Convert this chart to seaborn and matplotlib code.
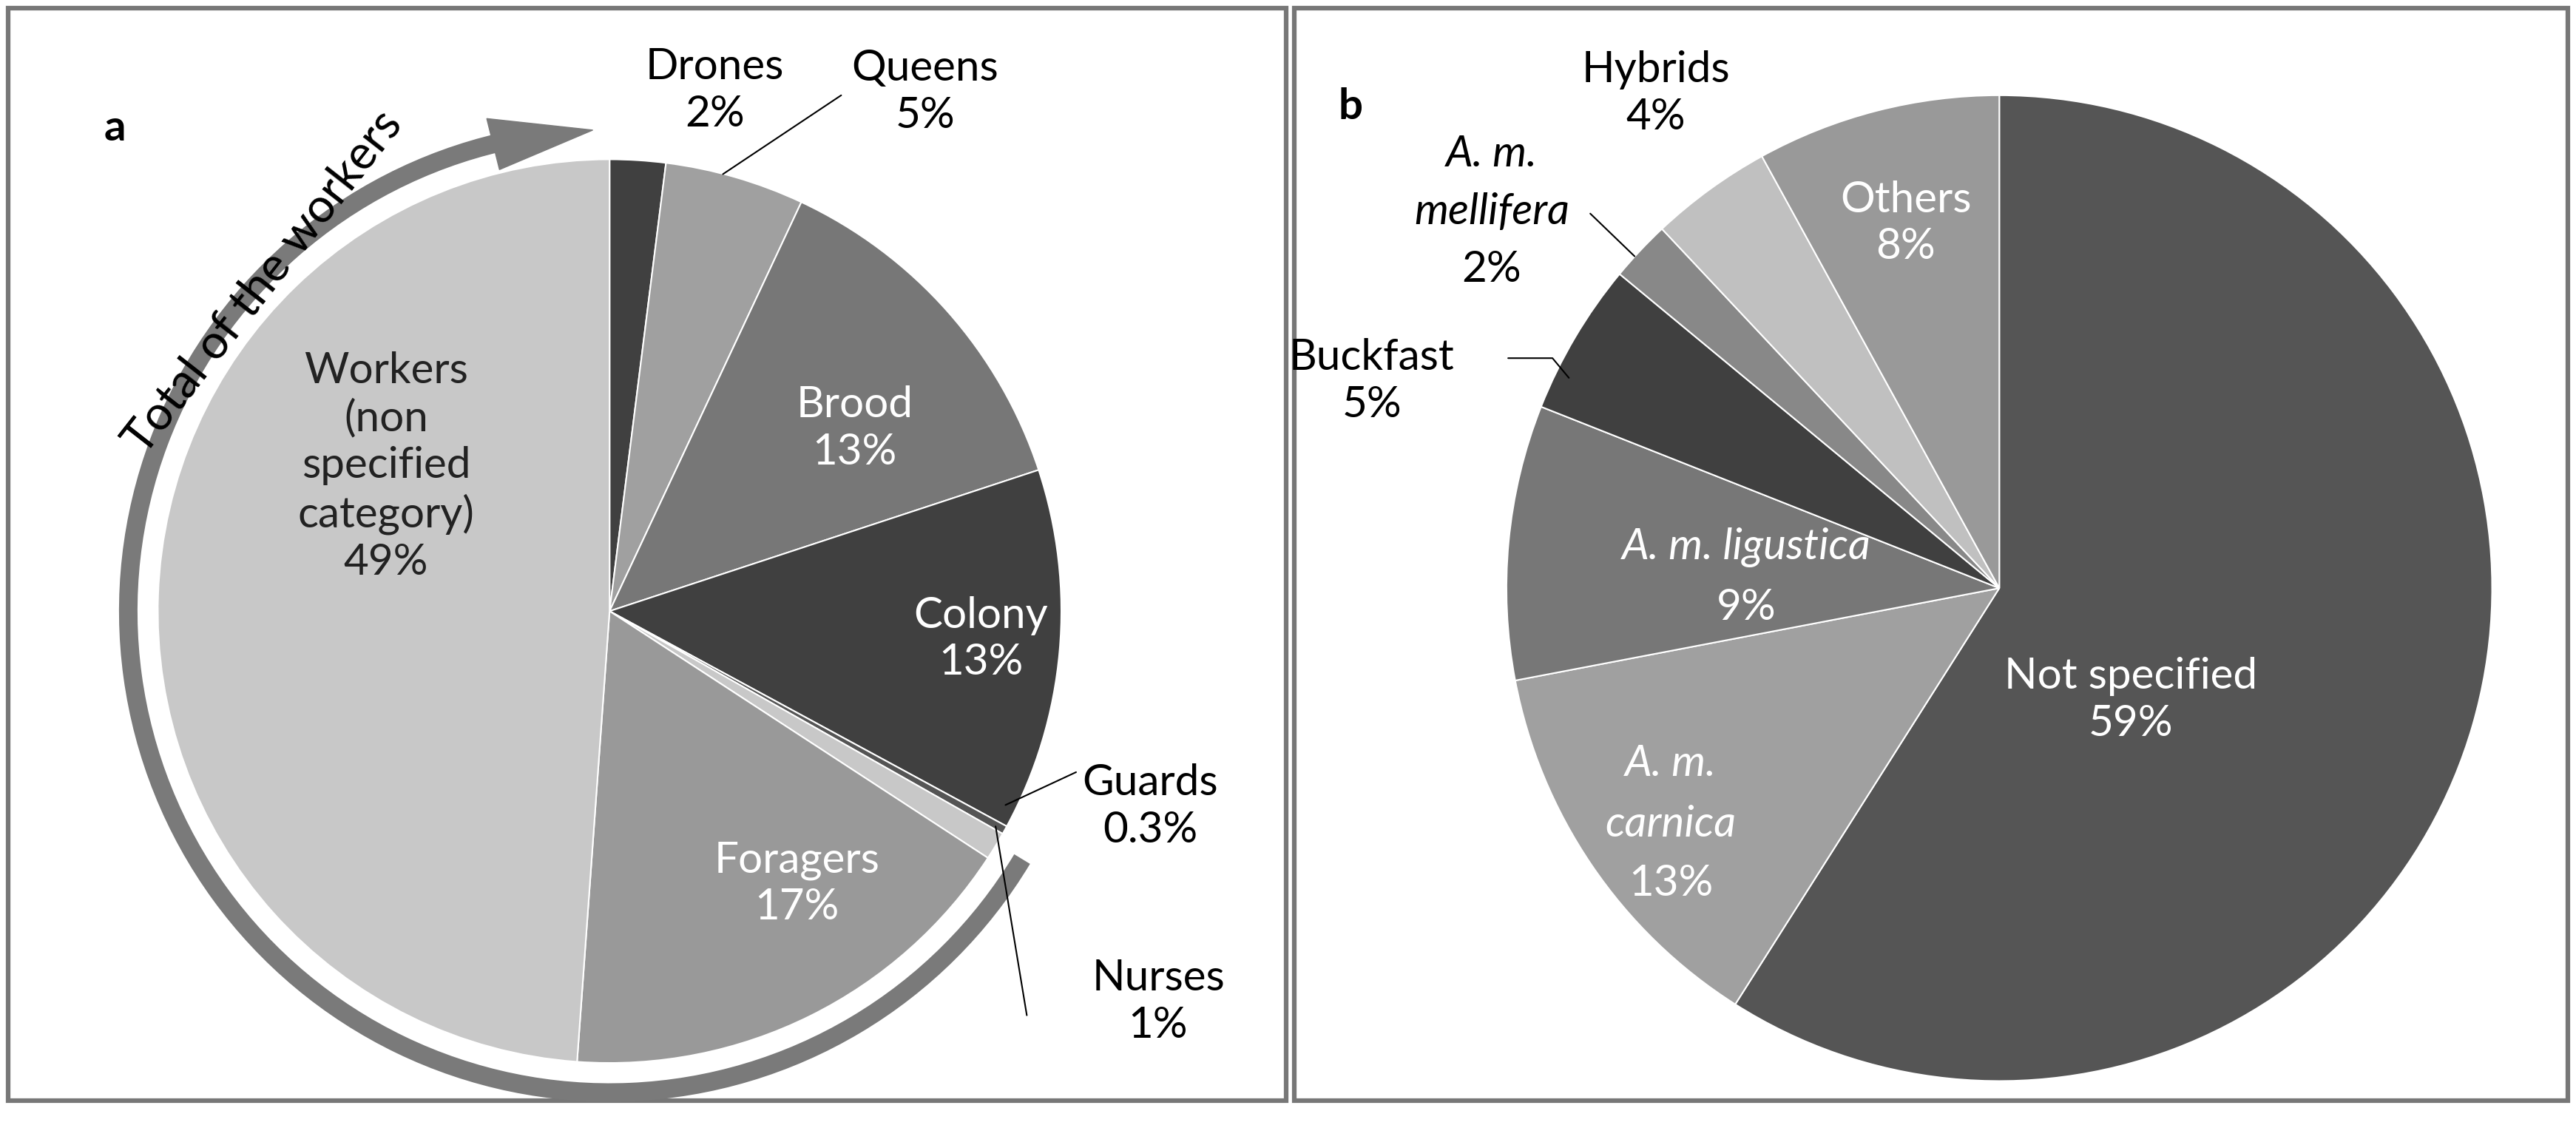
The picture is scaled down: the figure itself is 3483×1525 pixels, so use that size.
import numpy as np
import matplotlib.pyplot as plt
import seaborn as sns
from matplotlib.patches import Arc, Polygon, Rectangle

# panel a: what was studied
caste_labels = ["Drones", "Queens", "Brood", "Colony", "Guards", "Nurses", "Foragers", "Workers"]
caste_values = [2, 5, 13, 13, 0.3, 1, 17, 49]
caste_colors = ["#404040", "#a0a0a0", "#777777", "#404040", "#555555", "#c8c8c8", "#999999", "#c8c8c8"]

# panel b: subspecies
race_labels = ["Not specified", "A. m. carnica", "A. m. ligustica", "Buckfast",
               "A. m. mellifera", "Hybrids", "Others"]
race_values = [59, 13, 9, 5, 2, 4, 8]
race_colors = ["#555555", "#a0a0a0", "#777777", "#404040", "#888888", "#c0c0c0", "#999999"]

sns.set_theme(style="white")
plt.rcParams['font.family'] = ['Lato', 'DejaVu Sans']

W, H = 1568, 686.6
fig = plt.figure(figsize=(34.83, 15.25), dpi=100)
ax = fig.add_axes([0, 0, 1, 1])

def Y(y):
    return H - y

FS = 42

# panel frames
for x0, x1 in [(5, 783), (788, 1563)]:
    ax.add_patch(Rectangle((x0, Y(670)), x1 - x0, 665, fill=False, ec="#777777", lw=4.5))

# pies
ca, ra = (371, Y(372)), 275
ax.pie(caste_values, colors=caste_colors, startangle=90, counterclock=False,
       center=ca, radius=ra, wedgeprops=dict(ec="white", lw=1.5), frame=True)
cb, rb = (1217, Y(358)), 300
ax.pie(race_values, colors=race_colors, startangle=90, counterclock=False,
       center=cb, radius=rb, wedgeprops=dict(ec="white", lw=1.5), frame=True)
ax.set_xlim(0, W)
ax.set_ylim(0, H)
ax.set_aspect('equal')
ax.axis('off')

# arrow arc around the workers
r_arc = 293
ax.add_patch(Arc(ca, 2 * r_arc, 2 * r_arc, theta1=103, theta2=329, color="#7a7a7a", lw=18))
def pol(ang, r):
    a = np.deg2rad(ang)
    return (ca[0] + r * np.cos(a), ca[1] + r * np.sin(a))
ax.add_patch(Polygon([pol(104, r_arc - 16), pol(104, r_arc + 16), pol(92, r_arc)],
                     closed=True, color="#7a7a7a"))
ax.text(160, Y(172), "Total of the workers", rotation=52, ha="center", va="center",
        fontsize=46, color="black")

def lab(x, y, s, color="black", **kw):
    ax.text(x, Y(y), s, ha="center", va="center", fontsize=FS, color=color,
            linespacing=1.25, **kw)

def line(pts):
    ax.plot([p[0] for p in pts], [Y(p[1]) for p in pts], color="black", lw=1.5)

# panel a labels
lab(70, 78, "a", fontweight="bold")
lab(435, 55, "Drones\n2%")
lab(563, 56, "Queens\n5%")
line([(440, 106), (512, 58)])
lab(520, 261, "Brood\n13%", "white")
lab(597, 389, "Colony\n13%", "white")
lab(700, 491, "Guards\n0.3%")
line([(612, 490), (655, 470)])
lab(705, 610, "Nurses\n1%")
line([(606, 503), (625, 618)])
lab(485, 538, "Foragers\n17%", "white")
lab(235, 284, "Workers\n(non\nspecified\ncategory)\n49%", "#222222")

# panel b labels
lab(822, 65, "b", fontweight="bold")
lab(1297, 426, "Not specified\n59%", "white")
lab(1017, 465, "A. m.", "white", style="italic")
lab(1017, 502, "carnica", "white", style="italic")
lab(1017, 538, "13%", "white")
lab(1063, 333, "A. m. ligustica", "white", style="italic")
lab(1063, 370, "9%", "white")
lab(835, 232, "Buckfast\n5%")
line([(918, 218), (945, 218), (955, 230)])
lab(908, 94, "A. m.", style="italic")
lab(908, 129, "mellifera", style="italic")
lab(908, 164, "2%")
line([(968, 130), (995, 156)])
lab(1008, 57, "Hybrids\n4%")
lab(1160, 136, "Others\n8%", "white")

fig.savefig("out.png", dpi=100)
